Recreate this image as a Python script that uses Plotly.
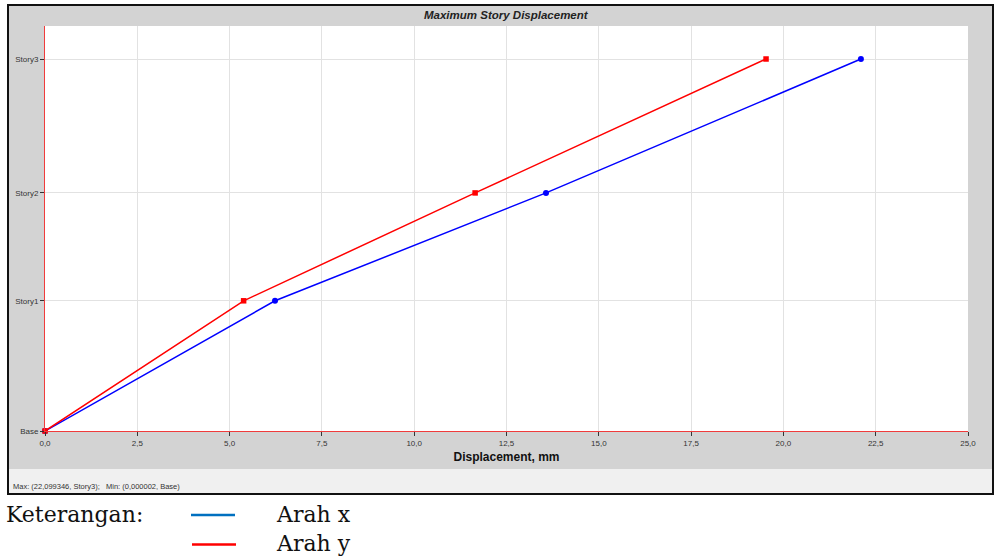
import plotly.graph_objects as go

# ---- data ----
stories = ["Base", "Story1", "Story2", "Story3"]
story_elev = [0.0, 3.5, 6.4, 10.0]
disp_x = [0.000002, 6.23, 13.57, 22.099346]
disp_y = [0.0, 5.38, 11.65, 19.53]
x_ticks = [0, 2.5, 5, 7.5, 10, 12.5, 15, 17.5, 20, 22.5, 25]

W, H = 995, 559
L, R, T, B = 45, 968, 26, 431  # plot area in pixels


def px(x):
    return (x - L) / (R - L)


def py(y):
    return (B - y) / (B - T)


fig = go.Figure()
fig.add_trace(go.Scatter(
    x=disp_x, y=story_elev, mode="lines+markers", name="Arah x",
    line=dict(color="#0000FF", width=1.5),
    marker=dict(symbol="circle", size=6, color="#0000FF"),
    showlegend=False, cliponaxis=False,
))
fig.add_trace(go.Scatter(
    x=disp_y, y=story_elev, mode="lines+markers", name="Arah y",
    line=dict(color="#FF0000", width=1.5),
    marker=dict(symbol="square", size=5.5, color="#FF0000"),
    showlegend=False, cliponaxis=False,
))

shapes = [
    # outer frame
    dict(type="rect", xref="paper", yref="paper", x0=px(8), x1=px(993), y0=py(5), y1=py(494),
         fillcolor="#D3D3D3", line=dict(color="#111111", width=2), layer="below"),
    # status bar
    dict(type="rect", xref="paper", yref="paper", x0=px(9), x1=px(992), y0=py(469), y1=py(493),
         fillcolor="#F0F0F0", line=dict(width=0), layer="below"),
    # plot area
    dict(type="rect", xref="paper", yref="paper", x0=0, x1=1, y0=0, y1=1,
         fillcolor="white", line=dict(width=0), layer="below"),
    # legend lines
    dict(type="line", xref="paper", yref="paper", x0=px(191), x1=px(235), y0=py(515), y1=py(515),
         line=dict(color="#0070C0", width=2.5)),
    dict(type="line", xref="paper", yref="paper", x0=px(192), x1=px(236), y0=py(544.5), y1=py(544.5),
         line=dict(color="#FF0000", width=2.5)),
]

annotations = [
    dict(text="<b><i>Maximum Story Displacement</i></b>", xref="paper", yref="paper",
         x=px(507), y=py(15), xanchor="center", yanchor="middle", showarrow=False,
         font=dict(family="Liberation Sans, Arial", size=11.5, color="#222222")),
    dict(text="Max: (22,099346, Story3);   Min: (0,000002, Base)", xref="paper", yref="paper",
         x=px(11), y=py(486.5), xanchor="left", yanchor="middle", showarrow=False,
         font=dict(family="Liberation Sans, Arial", size=7.5, color="#333333")),
    dict(text="Keterangan:", xref="paper", yref="paper",
         x=px(4), y=py(514), xanchor="left", yanchor="middle", showarrow=False,
         font=dict(family="DejaVu Serif", size=22, color="#111111")),
    dict(text="Arah x", xref="paper", yref="paper",
         x=px(274), y=py(514), xanchor="left", yanchor="middle", showarrow=False,
         font=dict(family="DejaVu Serif", size=22, color="#111111")),
    dict(text="Arah y", xref="paper", yref="paper",
         x=px(274), y=py(543), xanchor="left", yanchor="middle", showarrow=False,
         font=dict(family="DejaVu Serif", size=22, color="#111111")),
]

fig.update_layout(
    width=W, height=H,
    margin=dict(l=L, r=W - R, t=T, b=H - B, pad=0),
    paper_bgcolor="white", plot_bgcolor="white",
    separators=",.",
    shapes=shapes, annotations=annotations,
    xaxis=dict(
        range=[0, 25], tickvals=x_ticks, tickformat=".1f",
        showgrid=True, gridcolor="#E2E2E2", gridwidth=1,
        showline=True, linecolor="#F03C3C", linewidth=1,
        ticks="outside", ticklen=4, tickcolor="#333333", tickwidth=1,
        tickfont=dict(family="Liberation Sans, Arial", size=8, color="#333333"),
        title=dict(text="<b>Displacement, mm</b>", standoff=6,
                   font=dict(family="Liberation Sans, Arial", size=12, color="#111111")),
        zeroline=False, fixedrange=True,
    ),
    yaxis=dict(
        range=[0, 10.887], tickvals=story_elev, ticktext=stories,
        showgrid=True, gridcolor="#E2E2E2", gridwidth=1,
        showline=True, linecolor="#F03C3C", linewidth=1,
        ticks="outside", ticklen=4, tickcolor="#333333", tickwidth=1,
        tickfont=dict(family="Liberation Sans, Arial", size=8, color="#333333"),
        zeroline=False, fixedrange=True,
    ),
)

fig.write_html(
    "out.html",
    config={"displayModeBar": False},
    post_script="document.body.style.margin='0';document.body.style.overflow='hidden';",
)
